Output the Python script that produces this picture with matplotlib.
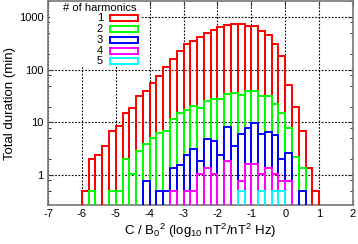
import numpy as np
import matplotlib
matplotlib.use("Agg")
import matplotlib.pyplot as plt
from matplotlib.patches import Rectangle
from matplotlib.ticker import FixedLocator, NullFormatter

plt.rcParams['font.family'] = ['Liberation Sans', 'DejaVu Sans']
plt.rcParams['mathtext.fontset'] = 'custom'
plt.rcParams['mathtext.rm'] = 'Liberation Sans'
plt.rcParams['mathtext.it'] = 'Liberation Sans'
plt.rcParams['axes.unicode_minus'] = False

# histogram bins: log10(C/B0^2) from -6 to 1 in steps of 0.2
bin_left = np.round(np.arange(-6.0, 1.0, 0.2), 1)
bin_width = 0.2

# total duration (min) per bin, one list per number of harmonics
h1 = [0.5, 2.06, 2.38, 3.5, 6.9, 8.4, 15.2, 18.9, 31, 40,
      55, 77, 110, 159, 221, 305, 342, 420, 505, 561,
      656, 690, 728, 740, 686, 676, 544, 460, 305, 180,
      52, 20, 6.8, 1.34, 0.5]
h2 = [0, 0.5, 0, 0, 0.5, 0.5, 2.06, 1.05, 2.9, 3.96,
      5.05, 6.3, 6.75, 11.7, 15.2, 17.2, 20.2, 18.6, 25, 28,
      28, 34.8, 35.7, 32.6, 39.6, 39.3, 32.3, 31, 22, 15,
      7.8, 2.2, 1.34, 0, 0]
h3 = [0, 0, 0, 0, 0, 0, 0, 0, 0, 0.78,
      0, 0.5, 0.5, 1.34, 1.59, 2.38, 3.18, 1.86, 4.77, 4.44,
      2.45, 8.15, 3.53, 6.1, 7.8, 9.7, 5.9, 6.56, 5.7, 2.06,
      2.63, 0, 0.5, 0, 0]
h4 = [0, 0, 0, 0, 0, 0, 0, 0, 0, 0,
      0, 0, 0, 0.5, 0, 0.5, 0.5, 1.07, 1.34, 1.07,
      0, 1.86, 0, 0.78, 1.6, 1.6, 1.07, 1.34, 1.07, 0.78,
      0.78, 0, 0, 0, 0]
h5 = [0, 0, 0, 0, 0, 0, 0, 0, 0, 0,
      0, 0, 0, 0, 0, 0, 0, 0, 0, 0,
      0, 0, 0, 0.5, 0, 0, 0.5, 0, 0.5, 0.5,
      0, 0, 0, 0, 0]

series = [h1, h2, h3, h4, h5]
labels = ['1', '2', '3', '4', '5']
colors = ['#ff0000', '#00ff00', '#0000ff', '#ff00ff', '#00ffff']

W, H = 358, 244
fig = plt.figure(figsize=(W / 100, H / 100), dpi=100)
ax = fig.add_axes([48/W, 1 - 205/H, 305/W, 204/H])

for vals, c in zip(series, colors):
    v = np.array(vals, dtype=float)
    m = v > 0
    ax.bar(bin_left[m], v[m] - 0.1, width=bin_width, bottom=0.1, align='edge',
           fill=False, edgecolor=c, linewidth=1.4, zorder=3)

ax.set_yscale('log')
ax.set_xlim(-7, 2)
ax.set_ylim(0.272, 2000)
ax.set_xticks(range(-7, 3))
ax.set_yticks([1, 10, 100, 1000])
ax.set_yticklabels(['1', '10', '100', '1000'])
ax.yaxis.set_minor_locator(FixedLocator([m * 10.0**k for k in range(-1, 4) for m in (2, 5, 8)]))
ax.yaxis.set_minor_formatter(NullFormatter())

ax.grid(True, which='major', color='black', linestyle=(0, (1.5, 1.5)), linewidth=0.8, zorder=1)
ax.set_axisbelow(True)
ax.tick_params(which='both', direction='in', top=True, right=True, labelsize=8, color='#333333')
ax.tick_params(which='major', length=3.5, width=0.8, pad=3)
ax.tick_params(which='minor', length=2, width=0.7)
for s in ax.spines.values():
    s.set_color('#777777')
    s.set_linewidth(1.2)

ax.set_xlabel('C / B$_0$$^2$ (log$_{10}$ nT$^2$/nT$^2$ Hz)', fontsize=9.5, labelpad=2)
ax.set_ylabel('Total duration (min)', fontsize=9.5, labelpad=2)

# legend drawn by hand on a white box that hides the grid
fig.patches.append(Rectangle((50/W, 1 - 67/H), 91/W, 65.5/H, facecolor='white',
                             edgecolor='none', transform=fig.transFigure, zorder=1))
fig.text(100/W, 1 - 8/H, '# of harmonics', fontsize=8, ha='center', va='center', zorder=2)
for i, (lab, c) in enumerate(zip(labels, colors)):
    yc = 18.3 + 10.75 * i
    fig.text(103/W, 1 - yc/H, lab, fontsize=8, ha='right', va='center', zorder=2)
    fig.patches.append(Rectangle((110/W, 1 - (yc + 3)/H), 27.5/W, 6/H, fill=False,
                                 edgecolor=c, linewidth=1.4, transform=fig.transFigure,
                                 zorder=2))

fig.savefig('out.png', dpi=100)
